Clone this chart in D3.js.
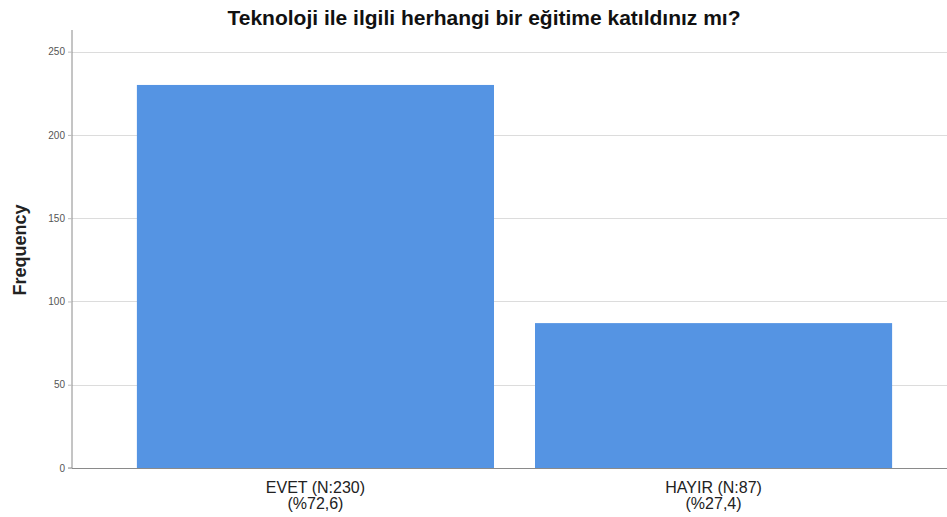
<!DOCTYPE html>
<html>
<head>
<meta charset="utf-8">
<script src="https://cdn.jsdelivr.net/npm/d3@7"></script>
<style>
  body { margin: 0; background: #fff; }
  svg { display: block; font-family: "Liberation Sans", Arial, sans-serif; }
</style>
</head>
<body>
<div id="chart"></div>
<script>
// data
const categories = ["EVET (N:230)", "HAYIR (N:87)"];
const percents = ["(%72,6)", "(%27,4)"];
const frequencies = [230, 87];
const yTicks = [0, 50, 100, 150, 200, 250];

const width = 947, height = 517;
const margin = { top: 30, right: 0, bottom: 49, left: 72 };

const svg = d3.select("#chart").append("svg")
    .attr("width", width)
    .attr("height", height);

const x = d3.scaleBand()
    .domain(categories)
    .range([margin.left, 957])
    .paddingInner(0.103)
    .paddingOuter(0.163);

const y = d3.scaleLinear()
    .domain([0, 263])
    .range([height - margin.bottom, margin.top]);

// gridlines
svg.append("g")
    .selectAll("line")
    .data(yTicks.filter(d => d > 0))
    .join("line")
    .attr("x1", margin.left)
    .attr("x2", width)
    .attr("y1", d => Math.round(y(d)) + 0.5)
    .attr("y2", d => Math.round(y(d)) + 0.5)
    .attr("stroke", "#dcdcdc")
    .attr("stroke-width", 1);

// bars
svg.append("g")
    .selectAll("rect")
    .data(frequencies)
    .join("rect")
    .attr("x", (d, i) => x(categories[i]))
    .attr("width", x.bandwidth())
    .attr("y", d => y(d))
    .attr("height", d => y(0) - y(d))
    .attr("fill", "#5594e3");

// y axis
const yAxis = svg.append("g")
    .attr("transform", `translate(${margin.left},0)`)
    .call(d3.axisLeft(y).tickValues(yTicks).tickSize(4).tickPadding(3));
yAxis.select(".domain").attr("stroke", "#8a8a8a").attr("d", `M-4,${y(0)}H0V${margin.top}`);
yAxis.selectAll(".tick line").attr("stroke", "#bbb");
yAxis.selectAll(".tick text").attr("fill", "#555").style("font-size", "10px");

// x axis line
svg.append("line")
    .attr("x1", margin.left)
    .attr("x2", width)
    .attr("y1", y(0) + 0.5)
    .attr("y2", y(0) + 0.5)
    .attr("stroke", "#8a8a8a");

// x labels
const xl = svg.append("g")
    .selectAll("text")
    .data(categories)
    .join("text")
    .attr("x", d => x(d) + x.bandwidth() / 2)
    .attr("y", 493)
    .attr("text-anchor", "middle")
    .attr("fill", "#222")
    .style("font-size", "16px");
xl.append("tspan").attr("x", d => x(d) + x.bandwidth() / 2).text(d => d);
xl.append("tspan").attr("x", d => x(d) + x.bandwidth() / 2).attr("dy", 16).text((d, i) => percents[i]);

// y label
svg.append("text")
    .attr("transform", `translate(26,250) rotate(-90)`)
    .attr("text-anchor", "middle")
    .attr("fill", "#222")
    .style("font-size", "18px")
    .style("font-weight", "bold")
    .text("Frequency");

// title
svg.append("text")
    .attr("x", 484)
    .attr("y", 25)
    .attr("text-anchor", "middle")
    .attr("fill", "#111")
    .style("font-size", "21px")
    .style("font-weight", "bold")
    .text("Teknoloji ile ilgili herhangi bir eğitime katıldınız mı?");
</script>
</body>
</html>
